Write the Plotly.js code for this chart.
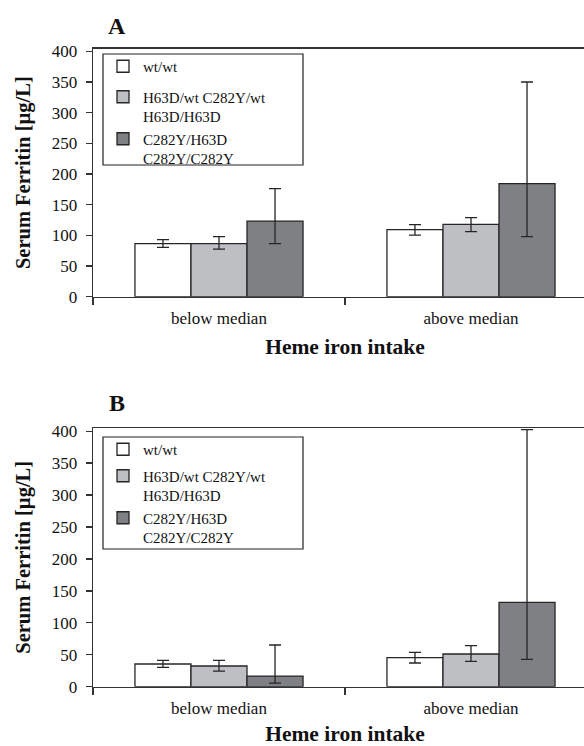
<!DOCTYPE html>
<html>
<head>
<meta charset="utf-8">
<script src="https://cdn.plot.ly/plotly-3.0.1.min.js"></script>
<style>html,body{margin:0;padding:0;background:#fff;overflow:hidden;}#chart{width:597px;height:746px;}</style>
</head>
<body>
<div id="chart"></div>
<script>
// ---- data ----
const categories = ['below median', 'above median'];
const seriesNames = ['wt/wt', 'H63D/wt C282Y/wt<br>H63D/H63D', 'C282Y/H63D<br>C282Y/C282Y'];
const yTickVals = [0, 50, 100, 150, 200, 250, 300, 350, 400];

// Panel A
const wtA = [86.4, 109.2];
const wtA_upper = [92.9, 117.4];
const wtA_lower = [80.4, 100.5];
const hetA = [86.4, 117.9];
const hetA_upper = [97.8, 128.8];
const hetA_lower = [77.7, 105.9];
const homA = [123.3, 184.2];
const homA_upper = [176.0, 349.9];
const homA_lower = [86.4, 97.8];

// Panel B
const wtB = [35.5, 45.4];
const wtB_upper = [41.2, 53.8];
const wtB_lower = [30.3, 37.1];
const hetB = [32.4, 51.2];
const hetB_upper = [41.2, 64.2];
const hetB_lower = [24.5, 39.7];
const homB = [16.7, 132.1];
const homB_upper = [65.3, 402.5];
const homB_lower = [5.7, 42.8];

// ---- styling ----
const fills = ['#ffffff', '#bebfc3', '#7f8084'];
const edge = '#262626';
const serif = '"Liberation Serif", "Times New Roman", serif';

function trace(vals, up, lo, i, xa, ya, leg, grp) {
  return {
    type: 'bar', x: categories, y: vals, name: seriesNames[i],
    xaxis: xa, yaxis: ya, legend: leg, legendgroup: grp,
    marker: {color: fills[i], line: {color: edge, width: 1.3}},
    error_y: {type: 'data', symmetric: false,
      array: up.map((u, k) => u - vals[k]),
      arrayminus: lo.map((l, k) => vals[k] - l),
      color: edge, thickness: 1.3, width: 6},
    hoverinfo: 'y'
  };
}

const data = [
  trace(wtA, wtA_upper, wtA_lower, 0, 'x', 'y', 'legend', 'a1'),
  trace(hetA, hetA_upper, hetA_lower, 1, 'x', 'y', 'legend', 'a2'),
  trace(homA, homA_upper, homA_lower, 2, 'x', 'y', 'legend', 'a2'),
  trace(wtB, wtB_upper, wtB_lower, 0, 'x2', 'y2', 'legend2', 'b1'),
  trace(hetB, hetB_upper, hetB_lower, 1, 'x2', 'y2', 'legend2', 'b2'),
  trace(homB, homB_upper, homB_lower, 2, 'x2', 'y2', 'legend2', 'b2')
];

// The original figure is cropped on the right: the plot continues past the window edge.
const W = 597, H = 746;
const px = v => v / W;
const py = v => (H - v) / H;

function xaxis(anchor) {
  return {
    anchor: anchor, type: 'category', domain: [px(93), 1], range: [-0.5, 1.5],
    tickson: 'boundaries', ticks: 'outside', ticklen: 7, tickwidth: 1.3, tickcolor: '#333',
    showline: true, linecolor: '#333', linewidth: 1.3, mirror: true,
    showgrid: false, zeroline: false, fixedrange: true, ticklabelstandoff: 6,
    tickfont: {family: serif, size: 17, color: '#111'},
    title: {text: 'Heme iron intake', standoff: 11, font: {family: serif, size: 21.5, color: '#111', weight: 700}}
  };
}
function yaxis(anchor, dom, top) {
  return {
    anchor: anchor, domain: dom, range: [0, top], tickvals: yTickVals,
    ticks: 'outside', ticklen: 6, tickwidth: 1.3, tickcolor: '#333',
    showline: true, linecolor: '#333', linewidth: 1.3,
    showgrid: false, zeroline: false, fixedrange: true, ticklabelstandoff: 5,
    tickfont: {family: serif, size: 17, color: '#111'},
    title: {text: 'Serum Ferritin [µg/L]', standoff: 15, font: {family: serif, size: 20.5, color: '#111', weight: 700}}
  };
}
function legend(top, gap) {
  return {
    x: px(103), xanchor: 'left', y: py(top), yanchor: 'top',
    bgcolor: 'rgba(0,0,0,0)', borderwidth: 0, traceorder: 'grouped', tracegroupgap: gap,
    valign: 'top', font: {family: serif, size: 15, color: '#111'}
  };
}

const layout = {
  width: W, height: H, margin: {l: 0, r: 0, t: 0, b: 0},
  paper_bgcolor: '#fff', plot_bgcolor: '#fff', showlegend: true,
  barmode: 'group', bargap: 0.333, bargroupgap: 0,
  xaxis: xaxis('y'), yaxis: yaxis('x', [py(296.7), py(48.7)], 404.2),
  xaxis2: xaxis('y2'), yaxis2: yaxis('x2', [py(686.7), py(428)], 405),
  legend: legend(50, 8), legend2: legend(433, 4),
  shapes: [
    {type: 'rect', xref: 'paper', yref: 'paper', x0: px(103), x1: px(303), y0: py(165), y1: py(54), line: {color: '#222', width: 1.2}},
    {type: 'rect', xref: 'paper', yref: 'paper', x0: px(103), x1: px(303), y0: py(549), y1: py(437), line: {color: '#222', width: 1.2}}
  ],
  annotations: [
    {text: 'A', xref: 'paper', yref: 'paper', x: px(117), y: py(26), xanchor: 'center', yanchor: 'middle', showarrow: false, font: {family: serif, size: 24, color: '#111', weight: 700}},
    {text: 'B', xref: 'paper', yref: 'paper', x: px(117), y: py(403), xanchor: 'center', yanchor: 'middle', showarrow: false, font: {family: serif, size: 24, color: '#111', weight: 700}}
  ]
};

Plotly.newPlot('chart', data, layout, {displayModeBar: false, staticPlot: true});
</script>
</body>
</html>
